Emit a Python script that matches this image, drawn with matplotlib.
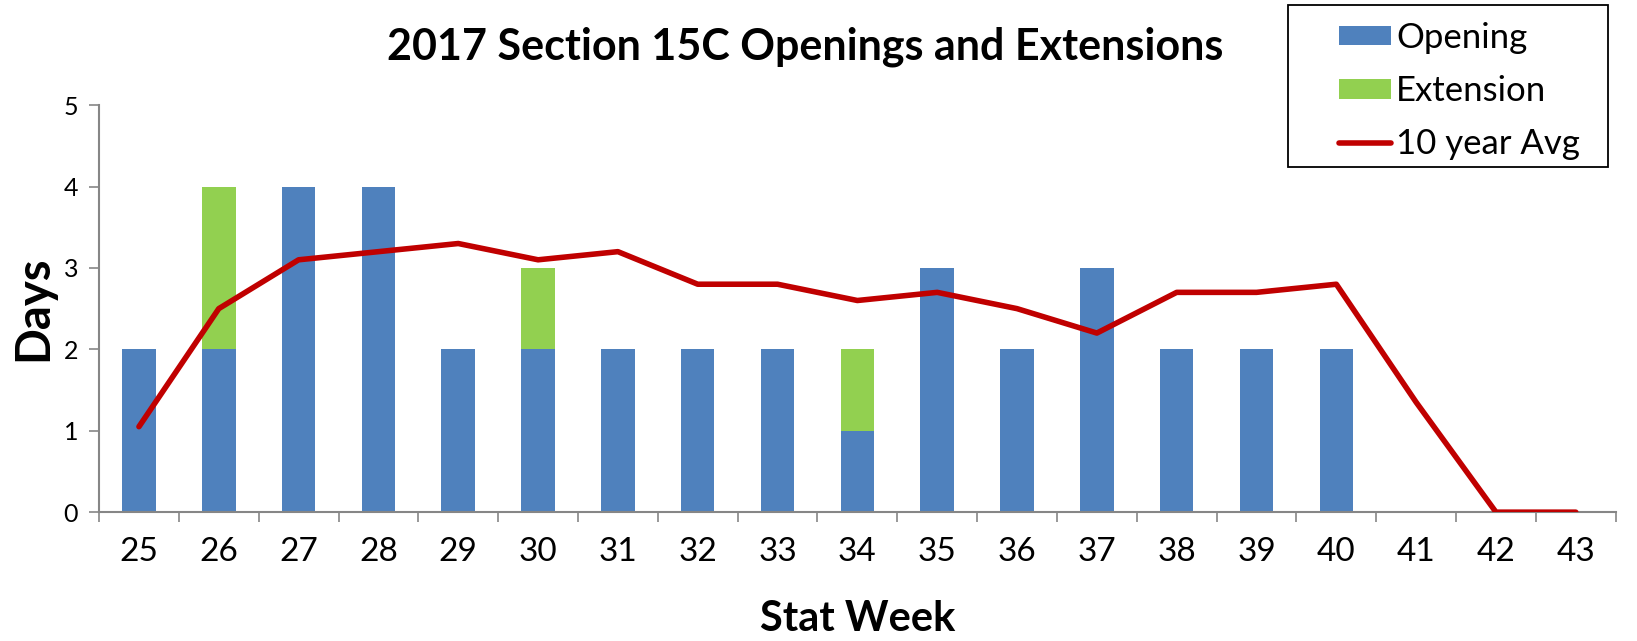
import matplotlib
matplotlib.use("Agg")
import matplotlib.pyplot as plt
from matplotlib.patches import Rectangle
import numpy as np

weeks = ["25","26","27","28","29","30","31","32","33","34","35","36","37","38","39","40","41","42","43"]
opening = [2,2,4,4,2,2,2,2,2,1,3,2,3,2,2,2,0,0,0]
extension = [0,2,0,0,0,1,0,0,0,1,0,0,0,0,0,0,0,0,0]
avg10 = [1.05,2.5,3.1,3.2,3.3,3.1,3.2,2.8,2.8,2.6,2.7,2.5,2.2,2.7,2.7,2.8,1.35,0,0]

plt.rcParams['font.family'] = ['Lato', 'DejaVu Sans']

fig = plt.figure(figsize=(16.37, 6.41), dpi=100)
ax = fig.add_axes([0.0605, 0.201, 0.9265, 0.635])

x = np.arange(len(weeks))
b1 = ax.bar(x, opening, width=0.42, color='#4F81BD', label='Opening', zorder=2)
b2 = ax.bar(x, extension, width=0.42, bottom=opening, color='#92D050', label='Extension', zorder=2)
l1, = ax.plot(x, avg10, color='#C00000', lw=4.0, label='10 year Avg', zorder=3, solid_capstyle='round')

ax.set_xlim(-0.5, len(weeks) - 0.5)
ax.set_ylim(0, 5)
ax.set_yticks([0,1,2,3,4,5])
ax.set_xticks(x)
ax.set_xticklabels(weeks, fontsize=24)
ax.set_xticks(np.arange(-0.5, len(weeks)), minor=True)
ax.tick_params(axis='x', which='major', length=0, pad=18)
ax.tick_params(axis='x', which='minor', length=7, color='#868686', width=1.2)
ax.tick_params(axis='y', labelsize=18, length=7, color='#868686', width=1.2, pad=8)
for s in ['top', 'right']:
    ax.spines[s].set_visible(False)
for s in ['left', 'bottom']:
    ax.spines[s].set_color('#868686')
    ax.spines[s].set_linewidth(1.5)

ax.set_ylabel('Days', fontsize=34, fontweight='bold', labelpad=6)
ax.set_xlabel('Stat Week', fontsize=30, fontweight='bold', labelpad=24)
fig.text(0.492, 0.927, '2017 Section 15C Openings and Extensions', fontsize=31,
         fontweight='bold', ha='center', va='center')

leg = fig.legend(handles=[b1, b2, l1], loc='upper left', bbox_to_anchor=(0.818, 0.966),
                 fontsize=25, frameon=False,
                 handlelength=1.5, handleheight=0.5, borderpad=0.0, labelspacing=0.61,
                 handletextpad=0.15, borderaxespad=0)
fig.patches.append(Rectangle((0.787, 0.739), 0.195, 0.253, transform=fig.transFigure,
                             fill=False, edgecolor='black', linewidth=1.3))

fig.savefig('out.png', dpi=100)
